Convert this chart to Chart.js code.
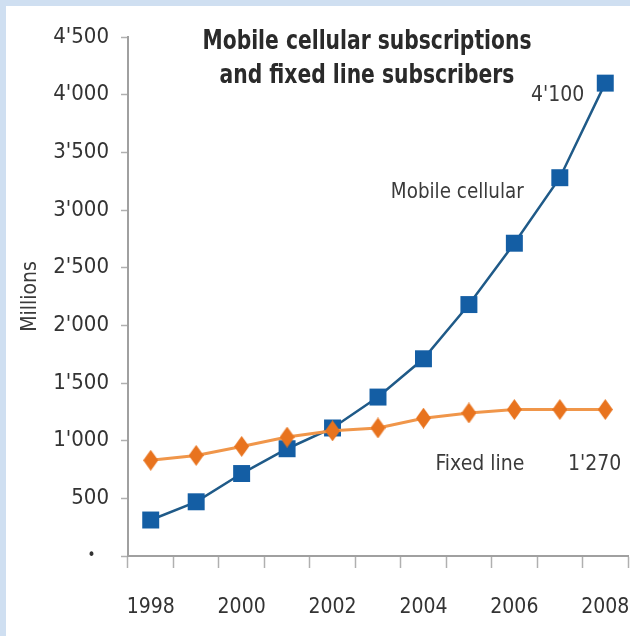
<!DOCTYPE html>
<html>
<head>
<meta charset="utf-8">
<script src="https://cdn.jsdelivr.net/npm/chart.js@4.4.1/dist/chart.umd.min.js"></script>
<style>
  html, body { margin: 0; padding: 0; background: #cfdff1; }
  #wrap { position: absolute; left: 6px; top: 6px; width: 624px; height: 630px; background: #fff; }
</style>
</head>
<body>
<div id="wrap"><canvas id="myChart"></canvas></div>
<script>
const FONT = "'Liberation Sans Narrow', 'Arial Narrow', 'DejaVu Sans Condensed', sans-serif";

// data
const years = ['1998', '1999', '2000', '2001', '2002', '2003', '2004', '2005', '2006', '2007', '2008'];
const mobileCellular = [312, 470, 715, 930, 1110, 1378, 1710, 2180, 2712, 3280, 4100];
const fixedLine = [830, 872, 950, 1031, 1085, 1110, 1195, 1240, 1270, 1270, 1270];
const titleLines = ['Mobile cellular subscriptions', 'and fixed line subscribers'];

//tall orange diamond marker
function makeDiamond(w, h, color) {
  const c = document.createElement('canvas');
  c.width = w;
  c.height = h;
  const g = c.getContext('2d');
  g.fillStyle = color;
  g.beginPath();
  g.moveTo(w / 2, 0);
  g.lineTo(w, h / 2);
  g.lineTo(w / 2, h);
  g.lineTo(0, h / 2);
  g.closePath();
  g.fill();
  return c;
}

function fmt(v) {
  if (v === 0) return '\u2022\u2003';
  if (v < 1000) return String(v);
  return Math.floor(v / 1000) + "'" + String(v % 1000).padStart(3, '0');
}

// text squeezed sideways to look like a narrow font
function narrowText(ctx, text, x, y, sx) {
  ctx.save();
  ctx.translate(x, y);
  ctx.scale(sx, 1);
  ctx.fillText(text, 0, 0);
  ctx.restore();
}

// title and series labels drawn inside the plot
const labelsPlugin = {
  id: 'labels',
  afterDatasetsDraw(chart) {
    const { ctx, chartArea, scales } = chart;
    const x = scales.x, y = scales.y;
    ctx.save();
    ctx.fillStyle = '#2a2a2a';
    ctx.textAlign = 'center';
    ctx.textBaseline = 'middle';
    ctx.font = 'bold 26px ' + FONT;
    const sx = 329 / ctx.measureText(titleLines[0]).width;
    const cx = chartArea.left + 239;
    narrowText(ctx, titleLines[0], cx, chartArea.top + 5, sx);
    narrowText(ctx, titleLines[1], cx, chartArea.top + 39, sx);

    ctx.fillStyle = '#3a3a3a';
    ctx.font = '21px ' + FONT;
    ctx.textAlign = 'right';
    narrowText(ctx, "4'100", x.getPixelForValue(10) - 21, y.getPixelForValue(3990), 1.0);
    narrowText(ctx, 'Mobile cellular', x.getPixelForValue(9) - 36, y.getPixelForValue(3147), 0.97);
    narrowText(ctx, 'Fixed line', x.getPixelForValue(8) + 10, y.getPixelForValue(789), 1.0);
    narrowText(ctx, "1'270", x.getPixelForValue(10) + 16, y.getPixelForValue(789), 1.0);
    ctx.restore();
  },
};

const dataChart = {
  labels: years,
  datasets: [
    {
      label: 'Fixed line',
      data: fixedLine,
      borderColor: '#f0964a',
      backgroundColor: '#e8731e',
      borderWidth: 3,
      pointStyle: makeDiamond(15, 21, '#e8731e'),
      tension: 0,
    },
    {
      label: 'Mobile cellular',
      data: mobileCellular,
      borderColor: '#1f5a88',
      backgroundColor: '#145ea4',
      borderWidth: 2.5,
      pointStyle: 'rect',
      pointRadius: 12,
      pointBorderWidth: 0,
      tension: 0,
    },
  ],
};

const config = {
  type: 'line',
  data: dataChart,
  plugins: [labelsPlugin],
  options: {
    responsive: true,
    maintainAspectRatio: false,
    animation: false,
    layout: { autoPadding: false, padding: { top: 31, right: 2, left: 0, bottom: 0 } },
    plugins: {
      legend: { display: false },
      tooltip: { enabled: false },
    },
    scales: {
      x: {
        offset: true,
        grid: {
          offset: true,
          drawOnChartArea: false,
          tickLength: 12,
          tickColor: '#b0b0b0',
          tickWidth: 1.5,
        },
        border: { color: '#a0a0a0', width: 2 },
        ticks: {
          autoSkip: false,
          maxRotation: 0,
          padding: 27,
          color: '#333',
          font: { family: FONT, size: 21 },
          callback: function (val, i) {
            return i % 2 === 0 ? this.getLabelForValue(val) : '';
          },
        },
        afterFit(scale) {
          scale.height = 80;
          scale.paddingLeft = 0;
          scale.paddingRight = 0;
        },
      },
      y: {
        min: 0,
        max: 4500,
        grid: {
          drawOnChartArea: false,
          tickLength: 7,
          tickColor: '#b0b0b0',
          tickWidth: 1.5,
        },
        border: { color: '#a0a0a0', width: 2 },
        ticks: {
          stepSize: 500,
          padding: 12,
          color: '#333',
          font: (ctx) => ({ family: FONT, size: ctx.tick && ctx.tick.value === 0 ? 15 : 22 }),
          callback: (v) => fmt(v),
        },
        title: {
          display: true,
          text: 'Millions',
          color: '#3a3a3a',
          font: { family: FONT, size: 21 },
          padding: { top: 12, bottom: 0 },
        },
        afterFit(scale) {
          scale.width = 122;
        },
      },
    },
  },
};

new Chart(document.getElementById('myChart'), config);
</script>
</body>
</html>
